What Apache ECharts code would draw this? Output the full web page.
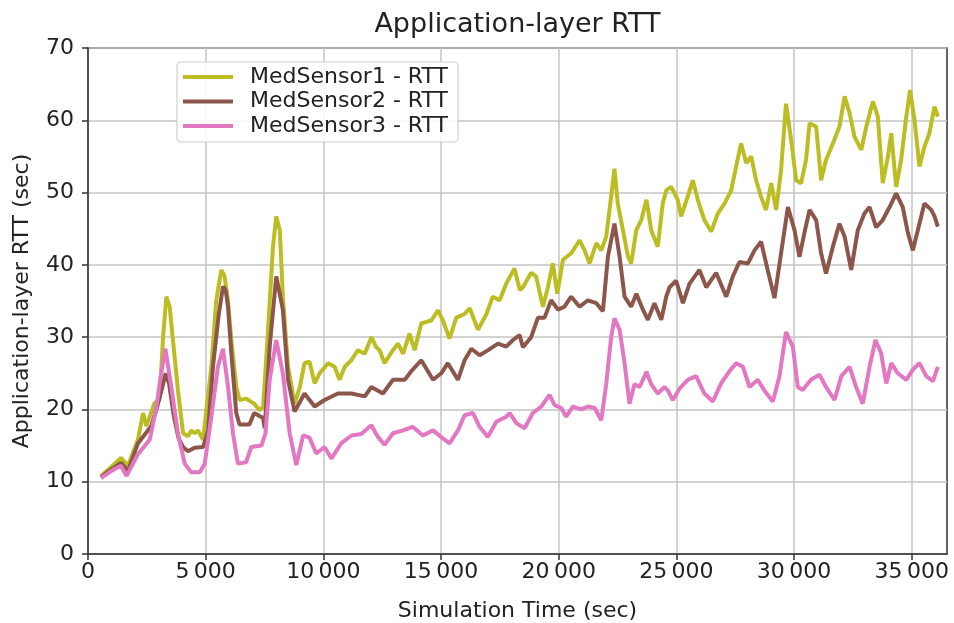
<!DOCTYPE html>
<html>
<head>
<meta charset="utf-8">
<script src="https://cdn.jsdelivr.net/npm/echarts@6/dist/echarts.min.js"></script>
<style>html,body{margin:0;padding:0;background:#fff}#c{width:954px;height:623px}</style>
</head>
<body>
<div id="c"></div>
<script>
const seriesNames = ['MedSensor1 - RTT', 'MedSensor2 - RTT', 'MedSensor3 - RTT'];
const xTicks = [0, 5000, 10000, 15000, 20000, 25000, 30000, 35000];
const yTicks = [0, 10, 20, 30, 40, 50, 60, 70];

const s1Time = [550,900,1400,1700,2120,2340,2480,2830,3040,3190,3330,3470,3610,3820,4040,4250,4390,4530,4670,4890,5240,5450,5665,5800,5950,6090,6300,6440,6720,7060,7290,7440,7650,7860,8000,8150,8280,8500,8780,9000,9200,9410,9630,9840,10200,10480,10690,10910,11190,11470,11760,12040,12250,12390,12600,12960,13170,13390,13660,13880,14160,14590,14870,15080,15360,15650,16000,16220,16570,16930,17200,17490,17770,18120,18350,18480,18830,19040,19330,19540,19750,19940,20180,20530,20890,21100,21310,21600,21810,22020,22230,22370,22510,22730,22940,23080,23300,23510,23730,23930,24210,24420,24570,24780,25060,25200,25490,25700,25910,26190,26480,26760,27050,27330,27540,27750,27970,28180,28390,28600,28810,29030,29240,29450,29660,29880,30090,30300,30510,30660,30940,31150,31360,31650,31930,32150,32360,32570,32860,33070,33350,33560,33770,33990,34130,34340,34550,34770,34930,35120,35330,35540,35750,35970,36110];
const s1Rtt = [10.8,11.8,13.3,12.2,15.8,19.5,17.7,20.9,21.3,30,35.6,34.2,29.6,22.7,16.7,16.3,17.1,16.7,17.1,15.8,25.9,35.1,39.3,38.5,35,29.6,23.1,21.3,21.5,20.8,19.9,20.3,31,42.5,46.7,44.8,35.6,25.9,20.8,23.1,26.4,26.6,23.6,25,26.4,25.9,24.1,25.9,26.8,28.2,27.7,30,28.6,28.2,26.4,28.2,29.1,27.7,30.5,28.2,31.9,32.3,33.7,32.3,29.8,32.7,33.2,34,31,33.2,35.6,35.1,37.4,39.5,36.5,36.9,38.9,38.4,34.2,36.9,40.2,36,40.7,41.6,43.4,42,40.2,43,42,43.9,49.5,53.3,48.5,44.8,41.2,40.2,44.8,46.2,49,44.8,42.5,48.5,50.3,50.8,49,46.7,49.5,51.7,49,46.2,44.6,47.1,48.5,50.3,53.6,56.8,54.1,55,51.7,49.4,47.6,51.3,47.6,53.1,62.3,57.2,51.7,51.3,54.5,59.6,59.1,51.7,54.5,56.8,59.1,63.3,61,57.7,55.9,59.1,62.6,60.5,51.3,55,58.2,50.8,54.5,60.5,64.2,60,53.6,56.3,58.2,61.9,60.5];

const s2Time = [550,900,1400,1700,2120,2690,2950,3150,3300,3450,3650,3850,4040,4250,4530,4890,5100,5310,5550,5735,5850,5950,6090,6300,6440,6860,7060,7440,7510,7720,8000,8280,8500,8780,9200,9630,10050,10620,11190,11760,12040,12530,12960,13460,13740,14160,14660,15010,15290,15720,16000,16290,16640,17000,17420,17770,18060,18340,18480,18830,19120,19400,19680,19970,20240,20530,20890,21240,21600,21880,22090,22370,22590,22800,23080,23300,23580,23790,24070,24360,24570,24710,24990,25280,25560,25980,26270,26690,27120,27400,27680,28040,28320,28600,28880,29170,29450,29740,30020,30230,30440,30660,30940,31150,31360,31650,31930,32150,32430,32710,32990,33210,33490,33770,34060,34340,34620,34840,35050,35260,35540,35830,35970,36110];
const s2Rtt = [10.6,11.5,12.6,11.5,15.3,17.7,20.5,23,25,23.5,19,16,14.8,14.2,14.7,14.8,17,25.9,33,37,36.5,34.2,27.8,19.5,17.9,17.9,19.5,18.8,17.4,28.7,38.4,33.8,24.1,19.7,22.2,20.4,21.3,22.2,22.2,21.8,23.1,22.2,24.1,24.1,25.3,26.8,24.1,25,26.4,24.1,26.8,28.4,27.5,28.2,29.1,28.7,29.6,30.3,28.6,30,32.7,32.7,35.1,33.8,34.2,35.6,34.2,35.1,34.7,33.6,41.1,45.7,41.1,35.6,34.2,36,33.8,32.4,34.7,32.4,35.6,36.9,37.8,34.7,37.4,39.3,36.9,38.9,35.6,38.4,40.4,40.2,42,43.2,39.3,35.4,41.6,48,44.8,41.1,44.4,47.6,46.2,41.6,38.8,42.5,45.7,43.9,39.3,44.8,47.1,48,45.2,46.2,48,49.9,48,44.4,42,44.8,48.5,47.6,46.7,45.3];

const s3Time = [550,900,1150,1400,1640,2120,2620,2900,3110,3290,3540,3820,4110,4390,4750,4960,5240,5520,5735,5950,6160,6370,6720,6940,7370,7540,7720,8000,8280,8570,8850,9140,9410,9700,10050,10340,10760,11190,11610,12040,12320,12600,12960,13390,13800,14230,14660,15080,15360,15720,16000,16360,16640,16990,17350,17770,17920,18200,18550,18900,19260,19610,19830,20110,20320,20600,20960,21240,21530,21810,22020,22230,22370,22590,22800,23010,23220,23440,23730,23930,24210,24500,24640,24850,25140,25490,25840,26190,26550,26900,27260,27540,27830,28110,28460,28740,29100,29380,29660,29950,30160,30370,30720,31080,31360,31720,32010,32360,32640,32920,33210,33460,33700,33920,34130,34410,34770,35050,35330,35620,35900,36110];
const s3Rtt = [10.5,11.3,11.8,12.2,10.8,13.8,15.8,20.2,25,28.4,23.1,16.7,12.5,11.3,11.3,12.5,19,25.9,28.4,23.1,16.7,12.5,12.7,14.8,15,16.7,24.1,29.6,25,16.7,12.3,16.4,16.1,13.9,14.8,13.2,15.3,16.4,16.6,17.8,16.2,15.1,16.7,17.1,17.6,16.4,17.1,16,15.3,17.1,19.2,19.5,17.6,16.2,18.3,19,19.5,18.1,17.4,19.5,20.4,22,20.6,20.2,19,20.4,20,20.4,20.2,18.5,23.5,30,32.6,31,26.4,20.8,23.5,23.1,25.2,23.5,22.2,23.1,22.6,21.3,22.9,24.1,24.6,22.2,21.1,23.6,25.3,26.4,25.9,23.1,24.1,22.6,21.1,24.6,30.7,28.7,23.1,22.7,24.1,24.8,23.1,21.3,24.6,25.9,23.1,20.8,25.9,29.6,27.8,23.6,26.4,25,24.1,25.5,26.4,24.6,23.9,25.9];

const colors = ['#bcbd22', '#8c564b', '#e377c2'];
const pair = (ts, vs) => ts.map((t, i) => [t, vs[i]]);
const FONT = 'DejaVu Sans';
const fmtX = v => {
  if (v === 0) return '0';
  const s = String(v);
  return s.slice(0, s.length - 3) + '\u2009' + s.slice(-3);
};

const chart = echarts.init(document.getElementById('c'), null, {renderer: 'canvas'});
chart.setOption({
  animation: false,
  backgroundColor: '#fff',
  title: {
    text: 'Application-layer RTT',
    left: 517.5, top: 11, padding: 0,
    textAlign: 'center',
    textStyle: {fontFamily: FONT, fontSize: 27, fontWeight: 'normal', color: '#222'}
  },
  legend: {
    orient: 'vertical', left: 177, top: 62,
    padding: [4, 10, 5, 6],
    itemGap: 2.5, itemWidth: 50, itemHeight: 4,
    icon: 'rect',
    backgroundColor: 'rgba(255,255,255,0.85)',
    borderColor: '#d0d0d0', borderWidth: 1.2, borderRadius: 4,
    textStyle: {fontFamily: FONT, fontSize: 22, color: '#222', padding: [0, 0, 0, 12]},
    data: seriesNames
  },
  grid: {
    left: 88, right: 7, top: 48, bottom: 69,
    outerBoundsMode: 'none',
    show: true, borderColor: '#333', borderWidth: 1.5, backgroundColor: 'transparent'
  },
  xAxis: {
    type: 'value', min: 0, max: 36500,
    name: 'Simulation Time (sec)', nameLocation: 'middle', nameGap: 46,
    nameTextStyle: {fontFamily: FONT, fontSize: 22, color: '#222'},
    axisLine: {show: true, lineStyle: {color: '#333', width: 1.5}},
    axisTick: {show: true, length: 6, lineStyle: {color: '#333', width: 1.5}, customValues: xTicks},
    axisLabel: {fontFamily: FONT, fontSize: 22, color: '#222', margin: 7, formatter: fmtX, customValues: xTicks},
    splitLine: {show: true, lineStyle: {color: '#c4c4c4', width: 1.5}}
  },
  yAxis: {
    type: 'value', min: 0, max: 70, interval: 10,
    name: 'Application-layer RTT (sec)', nameLocation: 'middle', nameGap: 55,
    nameTextStyle: {fontFamily: FONT, fontSize: 22, color: '#222'},
    axisLine: {show: true, lineStyle: {color: '#333', width: 1.5}},
    axisTick: {show: true, length: 6, lineStyle: {color: '#333', width: 1.5}},
    axisLabel: {fontFamily: FONT, fontSize: 22, color: '#222', margin: 14},
    splitLine: {show: true, lineStyle: {color: '#c4c4c4', width: 1.5}}
  },
  series: [
    {name: seriesNames[0], type: 'line', data: pair(s1Time, s1Rtt), showSymbol: false, symbol: 'none', color: colors[0], itemStyle: {color: colors[0]}, lineStyle: {width: 4, color: colors[0]}},
    {name: seriesNames[1], type: 'line', data: pair(s2Time, s2Rtt), showSymbol: false, symbol: 'none', color: colors[1], itemStyle: {color: colors[1]}, lineStyle: {width: 4, color: colors[1]}},
    {name: seriesNames[2], type: 'line', data: pair(s3Time, s3Rtt), showSymbol: false, symbol: 'none', color: colors[2], itemStyle: {color: colors[2]}, lineStyle: {width: 4, color: colors[2]}}
  ]
});
</script>
</body>
</html>
